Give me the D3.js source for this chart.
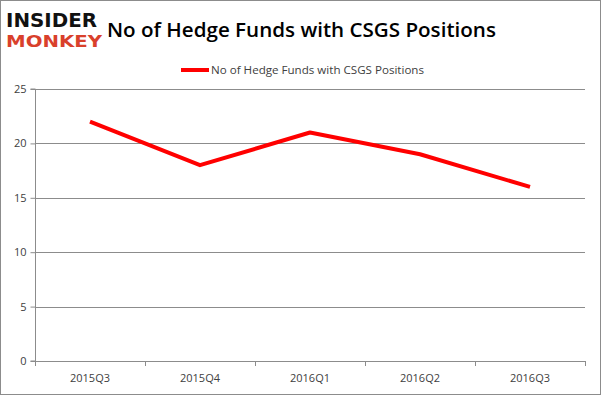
<!DOCTYPE html>
<html><head><meta charset="utf-8">
<script src="https://cdn.jsdelivr.net/npm/d3@7"></script>
<style>body{margin:0;background:#fff}svg{display:block}</style>
</head><body>
<svg id="c" width="601" height="395"></svg>
<script>
const categories = ["2015Q3","2015Q4","2016Q1","2016Q2","2016Q3"];
const values = [22,18,21,19,16];
const yTicks = [0,5,10,15,20,25];
const seriesName = "No of Hedge Funds with CSGS Positions";
const title = "No of Hedge Funds with CSGS Positions";

const svg = d3.select("#c");
const W=601,H=395;
svg.append("rect").attr("x",0.5).attr("y",0.5).attr("width",W-1).attr("height",H-1)
  .attr("fill","#fff").attr("stroke","#8c8c8c");

const m={l:35,r:585,t:89,b:361};
const x=d3.scaleBand().domain(categories).range([m.l,m.r]);
const y=d3.scaleLinear().domain([0,25]).range([m.b,m.t]);
const font="'Open Sans', 'DejaVu Sans', sans-serif";

// gridlines
svg.append("g").selectAll("line").data(yTicks.filter(d=>d>0)).join("line")
  .attr("x1",m.l).attr("x2",m.r).attr("y1",d=>Math.round(y(d))+0.5).attr("y2",d=>Math.round(y(d))+0.5)
  .attr("stroke","#8c8c8c").attr("stroke-width",1);

// y axis
const ya=svg.append("g").attr("transform",`translate(${m.l+0.5},0)`)
  .call(d3.axisLeft(y).tickValues(yTicks).tickSize(5).tickPadding(4).tickFormat(d3.format("d")));
ya.selectAll("path,line").attr("stroke","#8c8c8c");
ya.select(".domain").attr("d",`M-5,${m.t}H0V${m.b}H-5`);
ya.selectAll("text").attr("font-family",font).attr("font-size",11).attr("fill","#404040");

// x axis
const xa=svg.append("g").attr("transform",`translate(0,${m.b+0.5})`)
  .call(d3.axisBottom(x).tickSize(0).tickPadding(13));
xa.select(".domain").attr("stroke","#8c8c8c").attr("d",`M${m.l},0H${m.r}`);
xa.selectAll("text").attr("font-family",font).attr("font-size",11).attr("fill","#404040");
const bounds=[...categories.map(c=>x(c)),x(categories[categories.length-1])+x.bandwidth()];
svg.append("g").selectAll("line").data(bounds).join("line")
  .attr("x1",d=>Math.round(d)+0.5).attr("x2",d=>Math.round(d)+0.5)
  .attr("y1",m.b).attr("y2",m.b+5).attr("stroke","#8c8c8c");

// line
const line=d3.line().x((d,i)=>x(categories[i])+x.bandwidth()/2).y(d=>y(d));
svg.append("path").datum(values).attr("d",line).attr("fill","none")
  .attr("stroke","#ff0000").attr("stroke-width",4).attr("stroke-linejoin","round");

// title
const t=svg.append("text").attr("x",107).attr("y",37).text(title)
  .attr("font-family","'Open Sans', sans-serif").attr("font-weight",600).attr("font-size",22).attr("fill","#000");
const tw=t.node().getComputedTextLength();
t.attr("font-size",22*389/tw);

// legend
svg.append("line").attr("x1",181).attr("x2",209).attr("y1",70).attr("y2",70)
  .attr("stroke","#ff0000").attr("stroke-width",4);
const lt=svg.append("text").attr("x",211).attr("y",74).text(seriesName)
  .attr("font-family",font).attr("font-size",11).attr("fill","#404040");
lt.attr("textLength",213).attr("lengthAdjust","spacingAndGlyphs");

// logo (vertically stretched to match the blocky logo without overlapping boxes)
svg.append("text").attr("transform","translate(6,27) scale(1,1.25)").text("INSIDER")
  .attr("font-family","'DejaVu Sans', sans-serif").attr("font-weight",900).attr("font-size",16)
  .attr("fill","#111").attr("textLength",91).attr("lengthAdjust","spacingAndGlyphs");
svg.append("text").attr("transform","translate(6,47) scale(1,1.2)").text("MONKEY")
  .attr("font-family","'DejaVu Sans', sans-serif").attr("font-weight",900).attr("font-size",13)
  .attr("fill","#d9402b").attr("textLength",96).attr("lengthAdjust","spacingAndGlyphs");
</script>
</body></html>
